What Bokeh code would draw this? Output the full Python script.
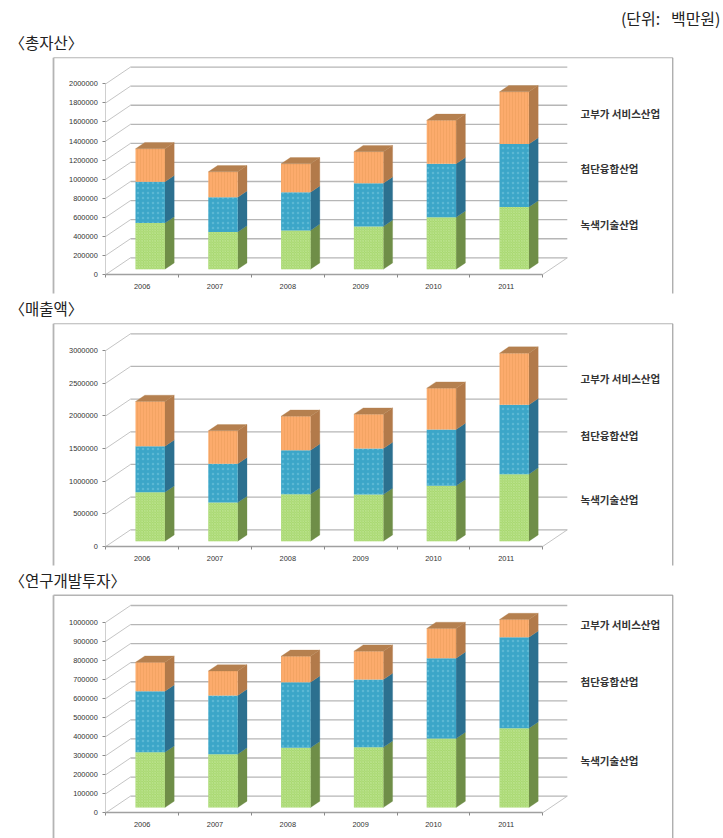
from bokeh.plotting import figure
from bokeh.layouts import column
from bokeh.models import Range1d, LinearAxis, FixedTicker, BasicTickFormatter
from bokeh.core.properties import value
from bokeh.embed import file_html
from bokeh.resources import INLINE

YEARS = ["2006", "2007", "2008", "2009", "2010", "2011"]
SERIES_NAMES = ["녹색기술산업", "첨단융합산업", "고부가 서비스산업"]

ASSET_GREEN = [484000, 389000, 407000, 449000, 544000, 653000]
ASSET_BLUE = [432000, 365000, 400000, 453000, 561000, 660000]
ASSET_ORANGE = [347000, 267000, 298000, 330000, 456000, 547000]
ASSET_TICKS = [0, 200000, 400000, 600000, 800000, 1000000, 1200000, 1400000, 1600000, 1800000, 2000000]

SALES_GREEN = [750000, 592000, 719000, 714000, 847000, 1026000]
SALES_BLUE = [704000, 592000, 673000, 704000, 862000, 1061000]
SALES_ORANGE = [684000, 505000, 520000, 526000, 633000, 791000]
SALES_TICKS = [0, 500000, 1000000, 1500000, 2000000, 2500000, 3000000]

RND_GREEN = [290000, 280000, 313000, 316000, 362000, 416000]
RND_BLUE = [320000, 308000, 344000, 355000, 421000, 477000]
RND_ORANGE = [152000, 128000, 136000, 149000, 156000, 93000]
RND_TICKS = [0, 100000, 200000, 300000, 400000, 500000, 600000, 700000, 800000, 900000, 1000000]

KR = value("Noto Sans CJK KR")
FIG_L, FIG_R = 0, 723
AX_X, CAT_W = 105.3, 72.8
WALL_DX, WALL_DY = 24.7, 16.7
BAR_W, BAR_DX, BAR_DY, FLOOR_DX, FLOOR_DY = 29.4, 9.3, 6.3, 8.0, 5.3

FRONT = ["#a7d76e", "#3ca6c8", "#fcab6c"]
SIDE = ["#6f8e48", "#2c708f", "#b27a4a"]
HATCH = [("diagonal_cross", "#c6e99e", 2.6, 0.6, 0.9),
         ("dot", "#8ad2e6", 5.0, 0.3, 0.4),
         ("vertical_line", "#ee9f5e", 3.0, 0.7, 0.9)]
TOP = "#b5804f"
GRID = "#b6b6b6"
FRAME = "#b4b4b4"


def xu(px):
    return (px - AX_X) / CAT_W


def panel(title, title_y, stacks, ticks, top_px, bot_px, y0_px, ymax_px,
          frame_top, frame_bot, label_ys, unit=False, thick_top=False):
    upp = ticks[-1] / (y0_px - ymax_px)
    yu = lambda px: (y0_px - px) * upp
    p = figure(width=FIG_R - FIG_L, height=bot_px - top_px,
               x_range=Range1d(xu(FIG_L), xu(FIG_R)),
               y_range=Range1d(yu(bot_px), yu(top_px)),
               x_axis_type=None, y_axis_type=None, toolbar_location=None,
               output_backend="svg", min_border=0, outline_line_color=None,
               background_fill_color="white", border_fill_color="white")
    p.grid.visible = False

    # chart frame
    p.line([xu(53)] * 2, [yu(frame_top), yu(frame_bot)], line_color=FRAME, line_width=1.8)
    p.line([xu(53), xu(672.3)], [yu(frame_top)] * 2, line_color=FRAME, line_width=1.6 if thick_top else 1.1)
    p.line([xu(672.3)] * 2, [yu(frame_top), yu(frame_bot)], line_color="#8e8e8e", line_width=1)

    # side wall diagonals and back-wall grid
    wx0, wx1 = xu(AX_X + WALL_DX), xu(AX_X + 6 * CAT_W + WALL_DX)
    dyu = WALL_DY * upp
    p.multi_line([[0, wx0] for _ in ticks], [[t, t + dyu] for t in ticks],
                 line_color="#bdbdbd", line_width=0.9)
    p.multi_line([[wx0, wx1] for _ in ticks], [[t + dyu, t + dyu] for t in ticks],
                 line_color=GRID, line_width=1.3)
    p.line([6, wx1], [0, dyu], line_color="#bdbdbd", line_width=0.9)

    # bars
    n = len(YEARS)
    cx = [i + 0.5 + FLOOR_DX / CAT_W for i in range(n)]
    half = BAR_W / CAT_W / 2
    ddx, ddy = BAR_DX / CAT_W, BAR_DY * upp
    base = [FLOOR_DY * upp] * n
    for k, vals in enumerate(stacks):
        tops = [b + v for b, v in zip(base, vals)]
        xs_side = [[c + half, c + half + ddx, c + half + ddx, c + half] for c in cx]
        ys_side = [[b, b + ddy, t + ddy, t] for b, t in zip(base, tops)]
        p.patches(xs_side, ys_side, fill_color=SIDE[k], line_color=SIDE[k], line_width=0.3)
        pat, hc, sc, w, al = HATCH[k]
        p.quad(left=[c - half for c in cx], right=[c + half for c in cx],
               bottom=base, top=tops, fill_color=FRONT[k], line_color=None,
               hatch_pattern=pat, hatch_color=hc, hatch_scale=sc, hatch_weight=w, hatch_alpha=al)
        base = tops
    xs_top = [[c - half, c + half, c + half + ddx, c - half + ddx] for c in cx]
    ys_top = [[t, t, t + ddy, t + ddy] for t in base]
    p.patches(xs_top, ys_top, fill_color=TOP, line_color=TOP, line_width=0.3)

    # axes
    ya = LinearAxis(fixed_location=0, ticker=FixedTicker(ticks=ticks), bounds=(0, ticks[-1]),
                    formatter=BasicTickFormatter(use_scientific=False))
    ya.axis_line_color = "#cfcfcf"
    ya.major_tick_line_color = "#8a8a8a"
    ya.major_tick_in, ya.major_tick_out = 0, 3
    ya.major_label_standoff = 5
    ya.major_label_text_font = "Liberation Sans"
    ya.major_label_text_font_size = "7.4px"
    ya.major_label_text_color = "#333333"
    p.add_layout(ya, "left")

    xa = LinearAxis(fixed_location=0, bounds=(0, n),
                    ticker=FixedTicker(ticks=[i + 0.5 for i in range(n)],
                                       minor_ticks=list(range(n + 1))),
                    major_label_overrides={i + 0.5: y for i, y in enumerate(YEARS)})
    xa.axis_line_color = "#a0a0a0"
    xa.axis_line_width = 1.4
    xa.major_tick_line_color = None
    xa.minor_tick_line_color = "#8a8a8a"
    xa.minor_tick_in, xa.minor_tick_out = 0, 3
    xa.major_tick_in, xa.major_tick_out = 0, 0
    xa.major_label_standoff = 6
    xa.major_label_text_font = "Liberation Sans"
    xa.major_label_text_font_size = "7.4px"
    xa.major_label_text_color = "#333333"
    p.add_layout(xa, "below")

    # texts
    p.text([xu(9)], [yu(title_y)], text=[title], text_font=KR, text_font_size="15.5px",
           text_color="#222222", text_baseline="middle", text_align="left")
    for name, ly in zip(SERIES_NAMES, label_ys):
        p.text([xu(580)], [yu(ly)], text=[name], text_font=KR, text_font_size="10.5px",
               text_font_style="bold", text_color="#333333",
               text_baseline="middle", text_align="left")
    if unit:
        p.text([xu(720)], [yu(17)], text=["(단위:\u00a0\u00a0\u00a0백만원)"], text_font=KR, text_font_size="16px",
               text_color="#222222", text_baseline="middle", text_align="right")
    return p


p1 = panel("〈총자산〉", 41, [ASSET_GREEN, ASSET_BLUE, ASSET_ORANGE], ASSET_TICKS,
           0, 296, 274.0, 83.3, 57.3, 293, [224, 168, 112.5], unit=True)
p2 = panel("〈매출액〉", 307, [SALES_GREEN, SALES_BLUE, SALES_ORANGE], SALES_TICKS,
           296, 568, 546.0, 350.0, 323.3, 565, [498.5, 434.5, 377.5])
p3 = panel("〈연구개발투자〉", 579, [RND_GREEN, RND_BLUE, RND_ORANGE], RND_TICKS,
           568, 838, 812.3, 621.7, 594.7, 838, [760, 680.5, 624], thick_top=True)

page = column(p1, p2, p3, spacing=0)
open("out.html", "w").write(file_html(page, INLINE))
